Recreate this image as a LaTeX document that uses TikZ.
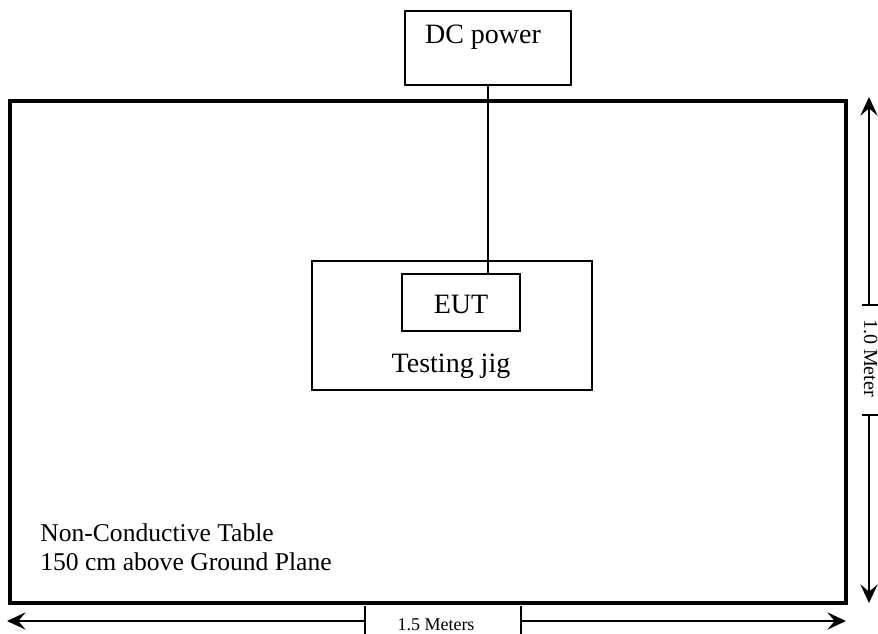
\documentclass[tikz,border=0pt]{standalone}
\usepackage{fontspec}
\setmainfont{Liberation Serif}
\usetikzlibrary{arrows.meta,fit}
\begin{document}
\begin{tikzpicture}[x=0.75pt,y=-0.75pt,
  boxshape/.style={draw, line width=1.4pt, inner sep=0pt},
  tableshape/.style={draw, line width=2.4pt, inner sep=0pt},
  bigtext/.style={font=\fontsize{21}{25}\selectfont, inner sep=0pt, anchor=base},
  tabletext/.style={font=\fontsize{19.2}{23}\selectfont, inner sep=0pt, anchor=base west},
  dimtext/.style={font=\fontsize{13.5}{16}\selectfont, inner sep=0pt, anchor=base},
  wire/.style={line width=1.1pt},
  dimline/.style={line width=1pt},
  dimarrow/.style={line width=1pt, -{Stealth[length=14pt,width=13pt,inset=5.5pt]}}]
\useasboundingbox (0,0) rectangle (878,633);
% corner coordinates
\coordinate (t1) at (10,101);   \coordinate (t2) at (846,603);
\coordinate (d1) at (405,11);   \coordinate (d2) at (571,85);
\coordinate (j1) at (312,261);  \coordinate (j2) at (592,390);
\coordinate (e1) at (402,274);  \coordinate (e2) at (520,331);
% boxes
\node[tableshape, fit=(t1)(t2)] (table) {};
\node[boxshape, fit=(d1)(d2)] (dc) {};
\node[boxshape, fit=(j1)(j2)] (jig) {};
\node[boxshape, fit=(e1)(e2)] (eut) {};
% texts
\node[bigtext] (dctext) at (483,43) {DC power};
\node[bigtext] (euttext) at (461,313) {EUT};
\node[bigtext] (jigtext) at (451,372) {Testing jig};
\node[tabletext] (tt1) at (40,541.7) {Non-Conductive Table};
\node[tabletext] (tt2) at (40,570) {150 cm above Ground Plane};
% wire
\draw[wire] (dc.south) -- (dc.south |- eut.north);
% horizontal dimension
\coordinate (hl) at (7,621);   \coordinate (hr) at (846,621);
\coordinate (hta) at (365,621); \coordinate (htb) at (521,621);
\draw[dimarrow] (hta) -- (hl);
\draw[dimarrow] (htb) -- (hr);
\draw[dimline] ([yshift=-11]hta) -- ([yshift=11]hta);
\draw[dimline] ([yshift=-11]htb) -- ([yshift=11]htb);
\node[dimtext] (hlabel) at (436,630) {1.5 Meters};
% vertical dimension
\coordinate (vt) at (869,97);  \coordinate (vb) at (869,603);
\coordinate (vta) at (869,305); \coordinate (vtb) at (869,415);
\draw[dimarrow] (vta) -- (vt);
\draw[dimarrow] (vtb) -- (vb);
\draw[dimline] (862,305) -- (880,305);
\draw[dimline] (862,415) -- (880,415);
\node[font=\fontsize{15}{18}\selectfont, inner sep=0pt, anchor=base, rotate=-90] (vlabel) at (864,358) {1.0 Meter};
\end{tikzpicture}
\end{document}
